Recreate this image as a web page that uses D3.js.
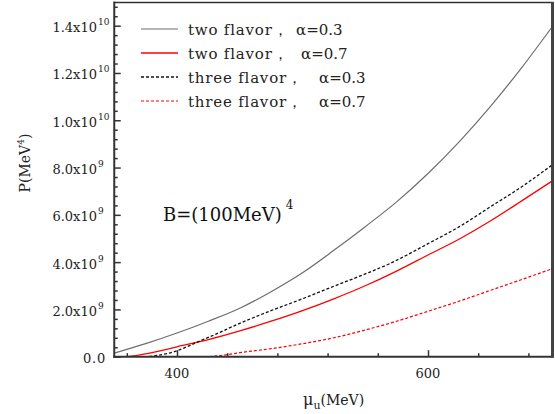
<!DOCTYPE html>
<html><head><meta charset="utf-8">
<script src="https://cdn.jsdelivr.net/npm/d3@7"></script>
<style>body{margin:0;background:#fff} svg{display:block} text{font-family:"DejaVu Serif",serif;}</style>
</head><body>
<svg id="c" width="555" height="414"></svg>
<script>
// Pressure values in units of 1e9 MeV^4, chemical potential mu_u in MeV
const muTwo03 = [350,375,400,425,450,475,500,525,550,575,600,625,650,675,700];
const pTwo03  = [0.15,0.55,1.0,1.5,2.05,2.75,3.55,4.5,5.5,6.55,7.75,9.1,10.6,12.25,14.03];
const muTwo07 = [350,358,375,400,425,450,475,500,525,550,575,600,625,650,675,700];
const pTwo07  = [0,0,0.12,0.42,0.72,1.09,1.5,1.95,2.45,3.0,3.62,4.3,4.98,5.75,6.6,7.47];
const muThree03 = [350,372,385,400,415,430,450,475,500,525,550,570,600,625,650,675,700];
const pThree03  = [0,0,0.06,0.25,0.59,0.93,1.41,1.95,2.45,2.98,3.5,3.95,4.78,5.5,6.35,7.2,8.15];
const muThree07 = [350,420,435,450,475,500,525,550,575,600,625,650,675,700];
const pThree07  = [0,0,0.05,0.17,0.34,0.55,0.8,1.13,1.5,1.92,2.35,2.81,3.27,3.74];

const xMajor = [400,600];
const yMajor = [0,2,4,6,8,10,12,14];
const legendLabels = ["two flavor，","two flavor，","three flavor，","three flavor，"];
const legendAlpha = ["α=0.3","α=0.7","α=0.3","α=0.7"];

const series = [
  {mu:muTwo03, p:pTwo03, color:"#6e6e6e", dash:null, w:1.2},
  {mu:muTwo07, p:pTwo07, color:"#ff0000", dash:null, w:1.3},
  {mu:muThree03, p:pThree03, color:"#111111", dash:"3,2", w:1.3},
  {mu:muThree07, p:pThree07, color:"#ff0000", dash:"3,2", w:1.2}
];

const svg = d3.select("#c");
const L = 114.25, R = 553.5, T = 2.05, B = 356.7;
const x = d3.scaleLinear().domain([350,700]).range([L,R]);
const y = d3.scaleLinear().domain([0,15]).range([B,T]);
const axisColor = "#333";

svg.append("clipPath").attr("id","clip").append("rect")
  .attr("x",L).attr("y",T).attr("width",R-L).attr("height",B-T);

const line = d3.line().x(d=>x(d[0])).y(d=>y(d[1])).curve(d3.curveMonotoneX);
series.forEach(s=>{
  svg.append("path").attr("clip-path","url(#clip)")
    .datum(s.mu.map((m,i)=>[m,s.p[i]]))
    .attr("d",line).attr("fill","none").attr("stroke",s.color)
    .attr("stroke-width",s.w).attr("stroke-dasharray",s.dash);
});

const xMinor = d3.range(360,700,40).filter(v=>!xMajor.includes(v));
const gx = svg.append("g").attr("transform",`translate(0,${B})`);
gx.call(d3.axisTop(x).tickValues(xMinor).tickSize(3.5).tickFormat(""));
gx.append("g").call(d3.axisTop(x).tickValues(xMajor).tickSize(6.5).tickFormat(""));
gx.selectAll(".domain").remove();
gx.selectAll("line").attr("stroke",axisColor).attr("stroke-width",1.5);

const yMinor = d3.range(0.4,15,0.4).filter(v=>Math.abs(v/2-Math.round(v/2))>1e-6);
const gy = svg.append("g").attr("transform",`translate(${L},0)`);
gy.call(d3.axisRight(y).tickValues(yMinor).tickSize(3.5).tickFormat(""));
gy.append("g").call(d3.axisRight(y).tickValues(yMajor).tickSize(6.5).tickFormat(""));
gy.selectAll(".domain").remove();
gy.selectAll("line").attr("stroke",axisColor).attr("stroke-width",1.5);

svg.append("line").attr("x1",L).attr("x2",L).attr("y1",T-0.5).attr("y2",B+1).attr("stroke",axisColor).attr("stroke-width",2);
svg.append("line").attr("x1",L-1).attr("x2",R).attr("y1",B).attr("y2",B).attr("stroke",axisColor).attr("stroke-width",2);
svg.append("line").attr("x1",L).attr("x2",R).attr("y1",T+0.5).attr("y2",T+0.5).attr("stroke",axisColor).attr("stroke-width",1.5);
svg.append("line").attr("x1",552.5).attr("x2",552.5).attr("y1",T).attr("y2",B+1).attr("stroke","#444").attr("stroke-width",3);

svg.selectAll(".xl").data(xMajor).enter().append("text")
  .attr("x",d=>x(d)).attr("y",378).attr("text-anchor","middle")
  .attr("font-size",13).attr("fill","#222")
  .text(d=>d);

yMajor.forEach(v=>{
  const yy = y(v)+6.5;
  if(v===0){
    svg.append("text").attr("x",106).attr("y",yy).attr("text-anchor","end")
      .attr("font-size",13).attr("letter-spacing",0.8).attr("fill","#222").text("0.0");
    return;
  }
  const big = v>=10;
  const mant = big ? (v/10).toFixed(1) : v.toFixed(1);
  svg.append("text").attr("x",97).attr("y",yy).attr("text-anchor","end")
    .attr("font-size",13).attr("letter-spacing",0).attr("fill","#222")
    .text(mant+"x10");
  svg.append("text").attr("x",98).attr("y",yy-7).attr("text-anchor","start")
    .attr("font-size",9).attr("fill","#222")
    .text(big?"10":"9");
});

const xt = svg.append("text").attr("x",303).attr("y",405)
  .attr("font-size",16).attr("fill","#222");
xt.append("tspan").text("μ");
xt.append("tspan").attr("font-size",11).attr("dy",4).text("u");
xt.append("tspan").attr("dy",-4).attr("font-size",14).text("(MeV)");

const yt = svg.append("text").attr("transform","translate(30,163) rotate(-90)")
  .attr("text-anchor","middle").attr("font-size",14).attr("fill","#222");
yt.append("tspan").text("P(MeV");
yt.append("tspan").attr("font-size",9).attr("dy",-6).text("4");
yt.append("tspan").attr("dy",6).text(")");

const legY = [29,53,77,101];
const alphaX = [296,301,319,319];
series.forEach((s,i)=>{
  svg.append("line").attr("x1",141).attr("x2",178).attr("y1",legY[i]).attr("y2",legY[i])
    .attr("stroke",s.color).attr("stroke-width",s.w).attr("stroke-dasharray",s.dash);
  svg.append("text").attr("x",188).attr("y",legY[i]+5.5)
    .attr("font-size",15).attr("letter-spacing",0.8).attr("fill","#222").text(legendLabels[i]);
  svg.append("text").attr("x",alphaX[i]).attr("y",legY[i]+5.5)
    .attr("font-size",15).attr("fill","#222").text(legendAlpha[i]);
});

const an = svg.append("text").attr("x",163).attr("y",221)
  .attr("font-size",18).attr("fill","#111");
an.append("tspan").text("B=(100MeV)");
an.append("tspan").attr("font-size",12).attr("dy",-12).attr("dx",4).text("4");
</script>
</body></html>
